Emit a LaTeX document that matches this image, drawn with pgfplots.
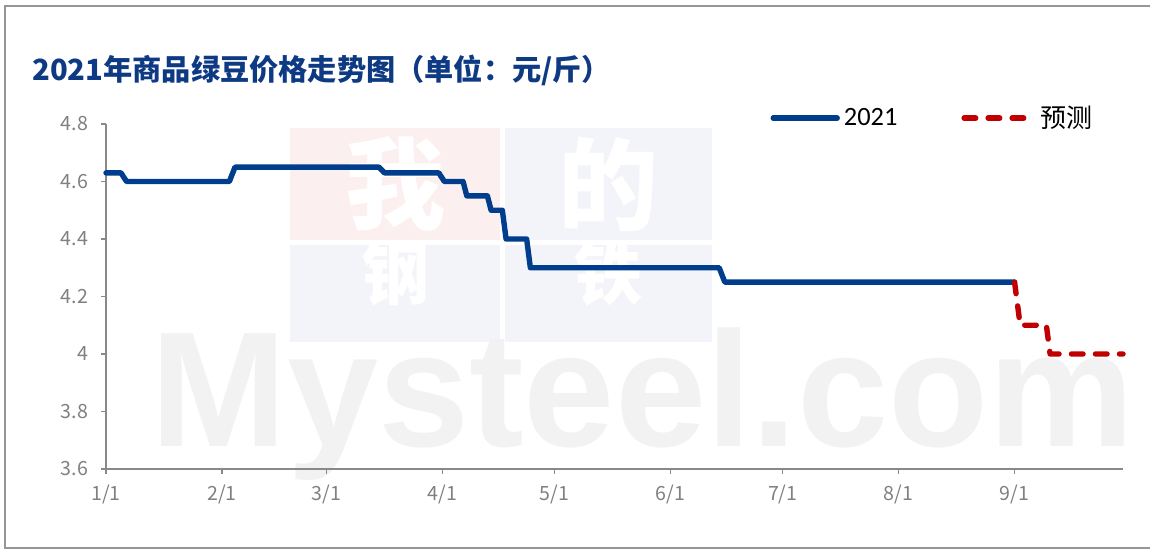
\documentclass[border=0pt]{standalone}
\usepackage{pgfplots}
\pgfplotsset{compat=1.18}
\usepackage{fontspec}
\setmainfont{Noto Sans CJK SC}
\newfontfamily\carlito{Carlito}
\newfontfamily\libsans{Liberation Sans}
\definecolor{lineblue}{RGB}{0,61,140}
\definecolor{titleblue}{RGB}{14,58,132}
\definecolor{predred}{RGB}{192,0,0}
\definecolor{axgray}{RGB}{137,137,137}
\definecolor{tickgray}{RGB}{128,128,128}
\definecolor{framegray}{RGB}{150,150,150}
\definecolor{wmpink}{RGB}{252,239,239}
\definecolor{wmblue}{RGB}{243,244,249}
\definecolor{wmgray}{RGB}{242,242,242}
\begin{document}
\begin{tikzpicture}[x=1pt,y=1pt]
\useasboundingbox (0,0) rectangle (575,275);
% outer frame
\draw[framegray, line width=0.9pt] (578,272) -- (2.5,272) -- (2.5,1) -- (578,1);
% watermark
\fill[wmpink] (145,155) rectangle (250,211);
\fill[wmblue] (252.5,155) rectangle (356,211);
\fill[wmblue] (145,104) rectangle (250,152.5);
\fill[wmblue] (252.5,104) rectangle (356,152.5);
\node[text=white, inner sep=0pt, font=\fontsize{50}{50}\selectfont\bfseries] at (197.5,183) {我};
\node[text=white, inner sep=0pt, font=\fontsize{50}{50}\selectfont\bfseries] at (304,183) {的};
\node[text=white, inner sep=0pt, font=\fontsize{34}{34}\selectfont\bfseries] at (197.5,138) {钢};
\node[text=white, inner sep=0pt, font=\fontsize{34}{34}\selectfont\bfseries] at (304,138) {铁};
\node[anchor=base west, inner sep=0pt, text=wmgray, font=\libsans\fontsize{82}{82}\selectfont\bfseries] at (75,51.5) {Mysteel.com};
% title
\node[anchor=west, inner sep=0pt, text=titleblue, font=\fontsize{14.6}{14.6}\selectfont\bfseries] at (16,240) {2021年商品绿豆价格走势图（单位：元/斤）};
\begin{axis}[
  at={(53pt,40.5pt)}, anchor=south west,
  scale only axis, width=508.5pt, height=172.5pt,
  xmin=0, xmax=272, ymin=3.6, ymax=4.8,
  axis x line*=bottom, axis y line*=left,
  axis line style={-, draw=axgray, line width=0.8pt},
  xtick={0,31,59,90,120,151,181,212,243},
  xticklabels={1/1,2/1,3/1,4/1,5/1,6/1,7/1,8/1,9/1},
  ytick={3.6,3.8,4,4.2,4.4,4.6,4.8},
  tick align=outside, major tick length=2.5pt,
  every tick/.style={draw=axgray, line width=0.7pt},
  /pgf/number format/assume math mode=true,
  ticklabel style={font=\fontsize{9.8}{10}\selectfont, text=tickgray},
  yticklabel style={xshift=-3pt},
  xticklabel style={yshift=-2pt},
  legend style={at={(0.653,1.017)}, anchor=west, draw=none, fill=none,
    legend columns=2, inner sep=0pt,
    /tikz/every even column/.append style={column sep=30pt}},
  legend image code/.code={\draw[#1] (0pt,0pt) -- (32pt,0pt);},
  clip=false,
]
\addplot[lineblue, line width=2.7pt, line join=round, line cap=round] coordinates {
(0,4.63)(4,4.63)(5.5,4.60)(33,4.60)(34.5,4.65)(73,4.65)(74.5,4.63)(89,4.63)(90.5,4.60)(95.5,4.60)(96.5,4.55)(102,4.55)(103,4.50)(106,4.50)(107,4.40)(112.5,4.40)(113.5,4.30)(164,4.30)(165.5,4.25)(243,4.25)};
\addlegendentry{\carlito\fontsize{13.2}{13}\selectfont 2021}
\addplot[predred, line width=2.7pt, line join=round, line cap=round, dash pattern=on 5.8pt off 6.2pt] coordinates {
(243,4.25)(244.5,4.10)(251.5,4.10)(252.5,4.00)(272,4.00)};
\addlegendentry{\hspace{3pt}\fontsize{13}{13}\selectfont 预测}
\end{axis}
\end{tikzpicture}
\end{document}
